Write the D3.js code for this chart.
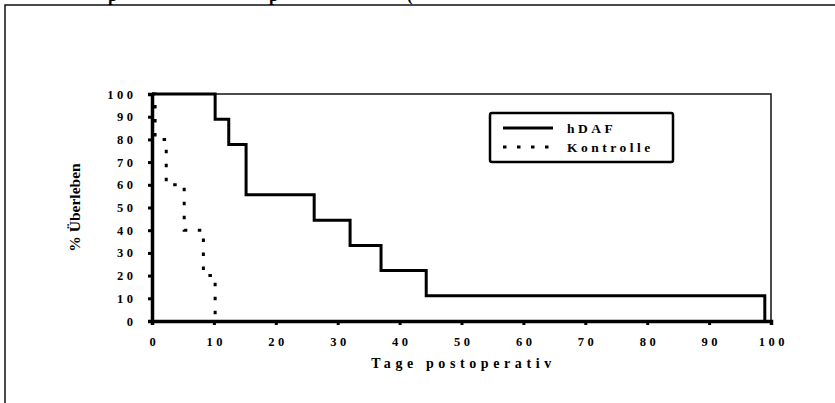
<!DOCTYPE html>
<html>
<head>
<meta charset="utf-8">
<script src="https://cdn.jsdelivr.net/npm/d3@7"></script>
<style>
    body { margin: 0; background: #fff; }
    text { font-family: "Liberation Serif", "Times New Roman", serif; font-weight: bold; fill: #000; }
</style>
</head>
<body>
<div id="chart"></div>
<script>

// Survival data (days post-op, % surviving)
const hdafDays = [0, 10.2, 12.4, 15.2, 26.2, 32, 37, 44.3, 99];
const hdafSurv = [100, 88.9, 77.8, 55.6, 44.4, 33.3, 22.2, 11.1, 0];
const ctrlDays = [0, 0.5, 2.3, 5.2, 8.3, 10.2];
const ctrlSurv = [100, 80, 60, 40, 20, 0];

const xTicks = d3.range(0, 101, 10);
const yTicks = d3.range(0, 101, 10);
const seriesNames = ["hDAF", "Kontrolle"];

const W = 835, H = 403;
const margin = {top: 94, right: 64, bottom: 82, left: 152};
const width = W - margin.left - margin.right;
const height = H - margin.top - margin.bottom;

const svg = d3.select("#chart").append("svg")
    .attr("width", W)
    .attr("height", H);

// outer frame (cut off at right/bottom)
svg.append("rect")
    .attr("x", 5).attr("y", 5)
    .attr("width", W + 20).attr("height", H + 20)
    .attr("fill", "none")
    .attr("stroke", "#111")
    .attr("stroke-width", 1.5);

// title, mostly cut off above the page
[["p", 108], ["p", 269], ["(", 407]].forEach(([t, x]) => {
    svg.append("text")
        .attr("x", x).attr("y", 0.5)
        .style("font-size", "17px")
        .text(t);
});

const g = svg.append("g")
    .attr("transform", `translate(${margin.left},${margin.top})`);

const x = d3.scaleLinear().domain([0, 100]).range([0, width]);
const y = d3.scaleLinear().domain([0, 100]).range([height, 0]);

// thin plot border (top + right)
g.append("path")
    .attr("d", `M0,0H${width}V${height}`)
    .attr("fill", "none")
    .attr("stroke", "#111")
    .attr("stroke-width", 1.5);

// axes
const xAxis = d3.axisBottom(x).tickValues(xTicks).tickSize(4).tickPadding(12);
const yAxis = d3.axisLeft(y).tickValues(yTicks).tickSize(4).tickPadding(15);

const gx = g.append("g")
    .attr("class", "axis x-axis")
    .attr("transform", `translate(0,${height})`)
    .call(xAxis);

const gy = g.append("g")
    .attr("class", "axis y-axis")
    .call(yAxis);

[gx, gy].forEach(a => {
    a.select(".domain").attr("stroke", "#000").attr("stroke-width", 3.5);
    a.selectAll(".tick line").attr("stroke", "#000").attr("stroke-width", 3);
    a.selectAll(".tick text")
        .style("font-size", "12.5px")
        .style("letter-spacing", "3.5px");
});
gx.selectAll(".tick text").attr("dx", "1.75px");
gy.selectAll(".tick text").attr("dx", "3.5px");

// lines
const line = d3.line()
    .x(d => x(d[0]))
    .y(d => y(d[1]))
    .curve(d3.curveStepAfter);

const hdaf = hdafDays.map((d, i) => [d, hdafSurv[i]]);
const ctrl = ctrlDays.map((d, i) => [d, ctrlSurv[i]]);

g.append("path")
    .datum(hdaf)
    .attr("d", line)
    .attr("fill", "none")
    .attr("stroke", "#000")
    .attr("stroke-width", 3);

g.append("path")
    .datum(ctrl)
    .attr("d", line)
    .attr("fill", "none")
    .attr("stroke", "#000")
    .attr("stroke-width", 3)
    .attr("stroke-dasharray", "3.5,10.5");

// axis titles
g.append("text")
    .attr("x", width / 2 + 2)
    .attr("y", height + 47)
    .attr("text-anchor", "middle")
    .style("font-size", "14px")
    .style("letter-spacing", "4.6px")
    .text("Tage postoperativ");

g.append("text")
    .attr("transform", `translate(-72,${height / 2}) rotate(-90)`)
    .attr("text-anchor", "middle")
    .style("font-size", "15.5px")
    .text("% Überleben");

// legend
const legend = svg.append("g").attr("transform", "translate(490,113)");
legend.append("rect")
    .attr("width", 183).attr("height", 49)
    .attr("rx", 2)
    .attr("fill", "#fff")
    .attr("stroke", "#000")
    .attr("stroke-width", 2.5);

seriesNames.forEach((name, i) => {
    const ly = 15 + i * 19;
    legend.append("line")
        .attr("x1", 13).attr("x2", 63)
        .attr("y1", ly).attr("y2", ly)
        .attr("stroke", "#000")
        .attr("stroke-width", 3)
        .attr("stroke-dasharray", i === 0 ? null : "3.5,10.5");
    legend.append("text")
        .attr("x", 77).attr("y", ly + 5)
        .style("font-size", "13.5px")
        .style("letter-spacing", "3.5px")
        .text(name);
});

</script>
</body>
</html>
